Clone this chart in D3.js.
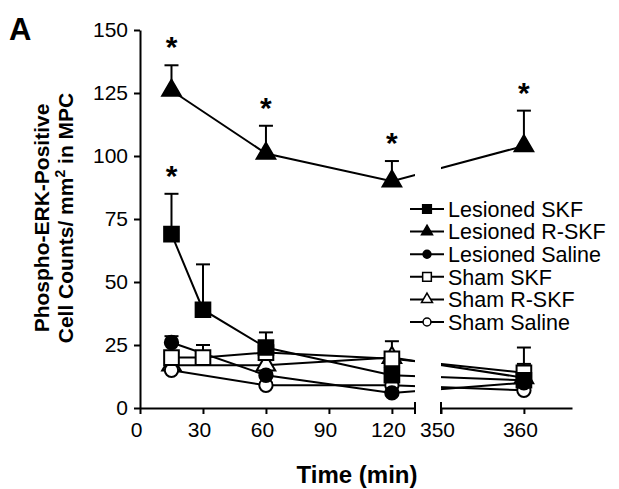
<!DOCTYPE html>
<html>
<head>
<meta charset="utf-8">
<script src="https://cdn.jsdelivr.net/npm/d3@7"></script>
<style>
  body { margin: 0; background: #fff; }
  svg { font-family: Arial, "Liberation Sans", Helvetica, sans-serif; }
</style>
</head>
<body>
<div id="chart"></div>
<script>
// time points (min)
const times = [15, 30, 60, 120, 360];

// series values (null = not measured), error = upper SEM
const seriesNames = ["Lesioned SKF", "Lesioned R-SKF", "Lesioned Saline", "Sham SKF", "Sham R-SKF", "Sham Saline"];
const lesionedSKF = [69, 39, 24, 13, 11];
const lesionedSKFErr = [16, 18, 6, 5, 13];
const lesionedRSKF = [126, null, 101, 90, 104];
const lesionedRSKFErr = [10, null, 11, 8, 14];
const lesionedSaline = [26, null, 13, 6, 10];
const lesionedSalineErr = [2.5, null, 2, 3, 2];
const shamSKF = [20, 20, 22, 19.5, 14];
const shamSKFErr = [2, 5, 3, 7, 3.5];
const shamRSKF = [17, null, 17, 20, 12];
const shamRSKFErr = [2, null, 2, 2, 2];
const shamSaline = [15, null, 9, 9, 7];
const shamSalineErr = [2, null, 1, 1, 1];

// significance markers: [series, time]
const asterisks = [["Lesioned R-SKF", 15], ["Lesioned R-SKF", 60], ["Lesioned R-SKF", 120],
                   ["Lesioned R-SKF", 360], ["Lesioned SKF", 15]];

const yTicks = [0, 25, 50, 75, 100, 125, 150];
const xTicksLeft = [0, 30, 60, 90, 120];
const xTicksRight = [350, 360];

const series = [
    { name: seriesNames[0], values: lesionedSKF, err: lesionedSKFErr, shape: d3.symbolSquare, filled: true },
    { name: seriesNames[1], values: lesionedRSKF, err: lesionedRSKFErr, shape: d3.symbolTriangle, filled: true },
    { name: seriesNames[2], values: lesionedSaline, err: lesionedSalineErr, shape: d3.symbolCircle, filled: true },
    { name: seriesNames[3], values: shamSKF, err: shamSKFErr, shape: d3.symbolSquare, filled: false },
    { name: seriesNames[4], values: shamRSKF, err: shamRSKFErr, shape: d3.symbolTriangle, filled: false },
    { name: seriesNames[5], values: shamSaline, err: shamSalineErr, shape: d3.symbolCircle, filled: false }
];
series.forEach(s => {
    s.points = times.map((t, i) => ({ t: t, v: s.values[i], e: s.err[i] })).filter(p => p.v !== null);
});

const width = 619, height = 489;

const svg = d3.select("#chart").append("svg")
    .attr("width", width)
    .attr("height", height);

// broken x axis: two linear pieces
const xLeft = d3.scaleLinear().domain([0, 131]).range([140, 415]);
const xRight = d3.scaleLinear().domain([350, 365.8]).range([441, 572]);
const x = t => t <= 131 ? xLeft(t) : xRight(t);

const y = d3.scaleLinear().domain([0, 150]).range([408, 30]);

const symbolSize = { square: 215, triangle: 150, circle: 140 };
function sizeOf(shape, k) {
    let s = shape === d3.symbolSquare ? symbolSize.square : shape === d3.symbolTriangle ? symbolSize.triangle : symbolSize.circle;
    return s * k;
}

// clip out the axis break
const defs = svg.append("defs");
const clip = defs.append("clipPath").attr("id", "gapclip");
clip.append("rect").attr("x", 0).attr("y", 0).attr("width", xLeft.range()[1]).attr("height", height);
clip.append("rect").attr("x", xRight.range()[0]).attr("y", 0).attr("width", width - xRight.range()[0]).attr("height", height);

// y axis
const yAxis = d3.axisLeft(y).tickValues(yTicks).tickSize(6).tickSizeOuter(0).tickPadding(6);
const gy = svg.append("g")
    .attr("class", "y-axis")
    .attr("transform", "translate(" + xLeft(0) + ",0)")
    .call(yAxis);
gy.select(".domain").attr("stroke-width", 2);
gy.selectAll(".tick line").attr("stroke-width", 2);
gy.selectAll("text").style("font-size", "21px").attr("fill", "#000");

// x axis left piece
const xAxisL = d3.axisBottom(xLeft).tickValues(xTicksLeft).tickSize(6).tickSizeOuter(0).tickPadding(8);
svg.append("g")
    .attr("class", "x-axis")
    .attr("transform", "translate(0," + y(0) + ")")
    .call(xAxisL);

// x axis right piece
const xAxisR = d3.axisBottom(xRight).tickValues(xTicksRight).tickSize(6).tickSizeOuter(0).tickPadding(8);
svg.append("g")
    .attr("class", "x-axis")
    .attr("transform", "translate(0," + y(0) + ")")
    .call(xAxisR);

svg.selectAll(".x-axis .domain").attr("stroke-width", 2);
svg.selectAll(".x-axis .tick line").attr("stroke-width", 2);
svg.selectAll(".x-axis text").style("font-size", "21px").attr("fill", "#000").attr("dx", -4);

// break ticks at the ends of the gap
[xLeft.range()[1], xRight.range()[0]].forEach(bx => {
    svg.append("line")
        .attr("x1", bx).attr("x2", bx)
        .attr("y1", y(0) - 6).attr("y2", y(0) + 6)
        .attr("stroke", "#000").attr("stroke-width", 2);
});

// lines
const line = d3.line().x(d => x(d.t)).y(d => y(d.v));
svg.append("g")
    .attr("clip-path", "url(#gapclip)")
    .selectAll(".series-line")
    .data(series)
    .enter()
    .append("path")
    .attr("class", "series-line")
    .attr("d", d => line(d.points))
    .attr("fill", "none")
    .attr("stroke", "#000")
    .attr("stroke-width", 2);

// error bars (upper only)
const capW = 7;
const errG = svg.append("g").attr("class", "errors");
series.forEach(s => {
    s.points.forEach(p => {
        errG.append("line")
            .attr("x1", x(p.t)).attr("x2", x(p.t))
            .attr("y1", y(p.v)).attr("y2", y(p.v + p.e))
            .attr("stroke", "#000").attr("stroke-width", 2);
        errG.append("line")
            .attr("x1", x(p.t) - capW).attr("x2", x(p.t) + capW)
            .attr("y1", y(p.v + p.e)).attr("y2", y(p.v + p.e))
            .attr("stroke", "#000").attr("stroke-width", 2);
    });
});

// markers: open ones first so filled sit on top
const markerOrder = [series[4], series[5], series[3], series[0], series[1], series[2]];
markerOrder.forEach(s => {
    svg.append("g")
        .selectAll("path")
        .data(s.points)
        .enter()
        .append("path")
        .attr("transform", d => "translate(" + x(d.t) + "," + y(d.v) + ")")
        .attr("d", d3.symbol().type(s.shape).size(sizeOf(s.shape, 1)))
        .attr("fill", s.filled ? "#000" : "#fff")
        .attr("stroke", "#000")
        .attr("stroke-width", 2);
});

// asterisks
svg.selectAll(".star")
    .data(asterisks)
    .enter()
    .append("text")
    .attr("class", "star")
    .attr("x", d => x(d[1]))
    .attr("y", d => {
        const s = series.find(q => q.name === d[0]);
        const p = s.points.find(q => q.t === d[1]);
        return y(p.v + p.e) - 8;
    })
    .attr("text-anchor", "middle")
    .style("font-size", "30px")
    .style("font-weight", "bold")
    .text("*");

// legend
const legend = svg.append("g").attr("transform", "translate(410,209)");
const legendRow = legend.selectAll(".legend-row")
    .data(series)
    .enter()
    .append("g")
    .attr("class", "legend-row")
    .attr("transform", (d, i) => "translate(0," + (i * 22.6) + ")");
legendRow.append("line")
    .attr("x1", 0).attr("x2", 34).attr("y1", 0).attr("y2", 0)
    .attr("stroke", "#000").attr("stroke-width", 2);
legendRow.append("path")
    .attr("transform", "translate(17,0)")
    .attr("d", d => d3.symbol().type(d.shape).size(sizeOf(d.shape, 0.35))())
    .attr("fill", d => d.filled ? "#000" : "#fff")
    .attr("stroke", "#000")
    .attr("stroke-width", 1.5);
legendRow.append("text")
    .attr("x", 38)
    .attr("y", 0)
    .attr("dy", "0.36em")
    .style("font-size", "21.5px")
    .text(d => d.name);

// axis titles
svg.append("text")
    .attr("x", 357)
    .attr("y", 483)
    .attr("text-anchor", "middle")
    .style("font-size", "24px")
    .style("font-weight", "bold")
    .text("Time (min)");

const yTitle = svg.append("g").attr("transform", "translate(49,218) rotate(-90)");
yTitle.append("text")
    .attr("x", 0).attr("y", 0)
    .attr("text-anchor", "middle")
    .style("font-size", "21px")
    .style("font-weight", "bold")
    .text("Phospho-ERK-Positive");
const yt2 = yTitle.append("text")
    .attr("x", 0).attr("y", 24)
    .attr("text-anchor", "middle")
    .style("font-size", "21px")
    .style("font-weight", "bold");
yt2.append("tspan").text("Cell Counts/ mm");
yt2.append("tspan").attr("dy", -8).style("font-size", "14px").text("2");
yt2.append("tspan").attr("dy", 8).text(" in MPC");

// panel letter
svg.append("text")
    .attr("x", 9)
    .attr("y", 40)
    .style("font-size", "31px")
    .style("font-weight", "bold")
    .text("A");
</script>
</body>
</html>
